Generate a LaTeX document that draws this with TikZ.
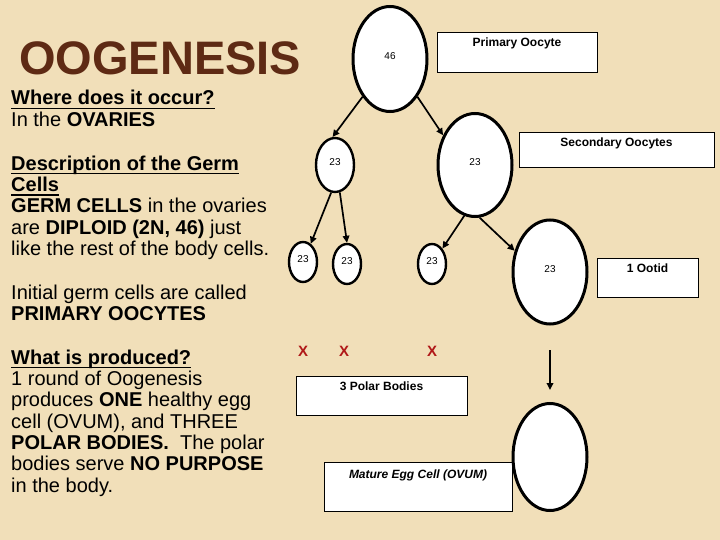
\documentclass[tikz,border=0pt]{standalone}
\definecolor{slidebg}{RGB}{241, 223, 185}
\definecolor{titlebrown}{RGB}{94, 42, 20}
\definecolor{crossred}{RGB}{176, 24, 24}
\usepackage{fontspec}
\setmainfont{Liberation Sans}
\newcommand{\ulhead}[1]{\setbox0\hbox{\bfseries #1}\rlap{\rule[-3.9pt]{\wd0}{1.3pt}}\box0}
\usepackage{tikz}
\usetikzlibrary{shapes.geometric, arrows.meta, positioning}

\tikzset{
  cell/.style={ellipse, draw, fill=white, line width=2.4pt, inner sep=0pt, text depth=6pt, font=\fontsize{10}{12}\selectfont},
  bigcell/.style={cell, line width=3pt, minimum width=74pt, minimum height=105pt},
  smallcell/.style={cell, minimum width=28pt, minimum height=40pt},
  tagbox/.style={draw, fill=white, line width=0.8pt, inner sep=0pt},
  tagtext/.style={inner sep=0pt, font=\bfseries\fontsize{12}{14}\selectfont},
  link/.style={line width=1.7pt, -{Triangle[length=7pt, width=6.5pt]}},
  para/.style={anchor=base west, inner sep=0pt, align=left, font=\fontsize{20}{21.3}\selectfont},
  cross/.style={inner sep=0pt, text=crossred, font=\bfseries\fontsize{15}{15}\selectfont}
}

\begin{document}
\begin{tikzpicture}[x=1pt, y=-1pt]
  \path[fill=slidebg] (0,0) rectangle (720,540);

  \node[anchor=base west, inner sep=0pt, text=titlebrown, font=\bfseries\fontsize{47}{50}\selectfont] (title) at (19,75) {OOGENESIS};
  \node[para, font=\fontsize{20}{22}\selectfont] (where) at (11,127) {\ulhead{Where does it occur?}\\In the \textbf{OVARIES}};
  \node[para] (germ) at (11,255.5) {\ulhead{Description of the Germ}\\\ulhead{Cells}\\\textbf{GERM CELLS} in the ovaries\\are \textbf{DIPLOID (2N, 46)} just\\like the rest of the body cells.};
  \node[para] (initial) at (11,320.5) {Initial germ cells are called\\\textbf{PRIMARY OOCYTES}};
  \node[para] (product) at (11,492) {\ulhead{What is produced?}\\1 round of Oogenesis\\produces \textbf{ONE} healthy egg\\cell (OVUM), and THREE\\\textbf{POLAR BODIES.}\ \ The polar\\bodies serve \textbf{NO PURPOSE}\\in the body.};

  \node[tagbox, minimum width=160pt, minimum height=40pt] (primbox) at (517,52) {};
  \node[tagtext, below=6.5pt of primbox.north] (primtxt) {Primary Oocyte};
  \node[tagbox, minimum width=195pt, minimum height=35pt] (secbox) at (616.5,149.5) {};
  \node[tagtext, below=6pt of secbox.north] (sectxt) {Secondary Oocytes};
  \node[tagbox, minimum width=101pt, minimum height=39pt] (ootbox) at (647.5,277.5) {};
  \node[tagtext, below=6pt of ootbox.north] (oottxt) {1 Ootid};
  \node[tagbox, minimum width=171pt, minimum height=39pt] (polbox) at (381.5,395.5) {};
  \node[tagtext, below=6.5pt of polbox.north] (poltxt) {3 Polar Bodies};
  \node[tagbox, minimum width=188pt, minimum height=49pt] (eggbox) at (418,486.5) {};
  \node[tagtext, font=\bfseries\itshape\fontsize{12}{14}\selectfont, below=8pt of eggbox.north] (eggtxt) {Mature Egg Cell (OVUM)};

  \node[bigcell] (prim) at (390,59) {46};
  \node[cell, minimum width=38pt, minimum height=54pt] (secL) at (335,165) {23};
  \node[bigcell, minimum height=103pt] (secR) at (475,165) {23};
  \node[smallcell] (pbA) at (303,262) {23};
  \node[smallcell] (pbB) at (347,264) {23};
  \node[smallcell] (pbC) at (432,264) {23};
  \node[bigcell, minimum height=104pt] (ootid) at (550,272) {23};
  \node[bigcell, minimum height=107pt] (ovum) at (550,457) {};

  \draw[link] (prim.234) -- (secL.95);
  \draw[link] (prim.306) -- (secR.137);
  \draw[link] (secL.262) -- (pbA.67);
  \draw[link] (secL.280) -- (pbB.90);
  \draw[link] (secR.258) -- (pbC.56);
  \draw[link] (secR.275) -- (ootid.149);

  \node[cross] (xA) at (303,351) {X};
  \node[cross] (xB) at (344,351) {X};
  \node[cross] (xC) at (432,351) {X};

  \coordinate (drop) at (550,350);
  \draw[link, line width=2pt, shorten >=12pt] (drop) -- (ovum.north);
\end{tikzpicture}
\end{document}
